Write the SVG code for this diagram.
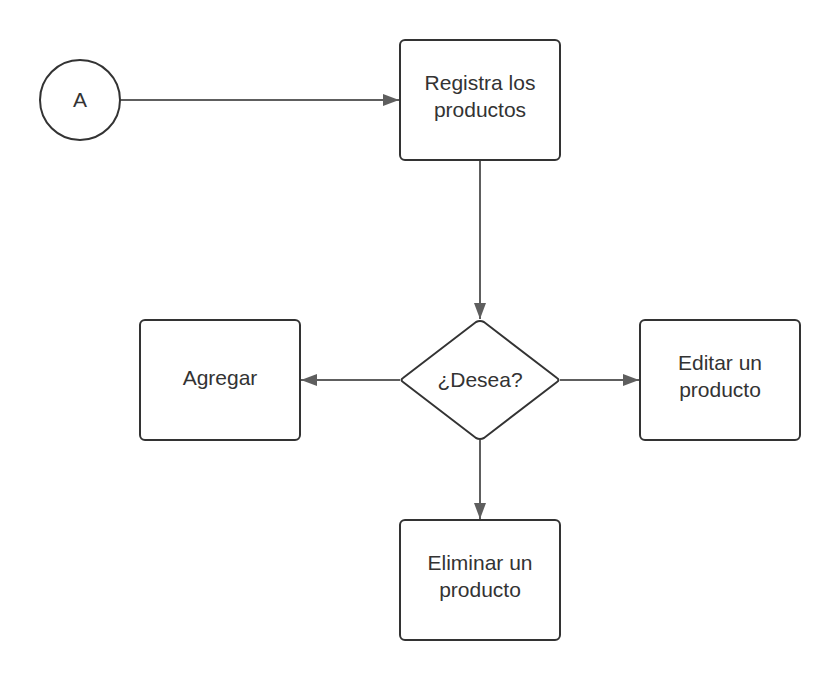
<svg xmlns="http://www.w3.org/2000/svg" width="840" height="680" viewBox="0 0 840 680">
<style>
.n{fill:#fff;stroke:#333;stroke-width:2}
.t{font-family:"Liberation Sans",Arial,sans-serif;font-size:21px;fill:#333;text-anchor:middle}
.c{stroke:#5e5e5e;stroke-width:2;fill:none}
</style>
<defs>
<marker id="ah" markerWidth="16" markerHeight="12" refX="16" refY="6" orient="auto" markerUnits="userSpaceOnUse">
<path d="M0,0 L16,6 L0,12 Z" fill="#5e5e5e"/>
</marker>
</defs>
<rect width="840" height="680" fill="#fff"/>
<g id="connectors">
<line class="c" x1="120" y1="100" x2="399" y2="100" marker-end="url(#ah)"/>
<line class="c" x1="480" y1="160" x2="480" y2="319" marker-end="url(#ah)"/>
<line class="c" x1="400" y1="380" x2="301" y2="380" marker-end="url(#ah)"/>
<line class="c" x1="560" y1="380" x2="639" y2="380" marker-end="url(#ah)"/>
<line class="c" x1="480" y1="440" x2="480" y2="519" marker-end="url(#ah)"/>
</g>
<g id="nodeA">
<circle class="n" cx="80" cy="100" r="40"/>
<text class="t" x="80" y="107">A</text>
</g>
<g id="registra">
<rect class="n" x="400" y="40" width="160" height="120" rx="5"/>
<text class="t" x="480" y="90">Registra los</text>
<text class="t" x="480" y="117">productos</text>
</g>
<g id="desea">
<path class="n" d="M476,322 Q480,320 484,322 L557,378 Q560,380 557,382 L484,438 Q480,440 476,438 L403,382 Q400,380 403,378 Z"/>
<text class="t" x="480" y="387">¿Desea?</text>
</g>
<g id="agregar">
<rect class="n" x="140" y="320" width="160" height="120" rx="5"/>
<text class="t" x="220" y="385">Agregar</text>
</g>
<g id="editar">
<rect class="n" x="640" y="320" width="160" height="120" rx="5"/>
<text class="t" x="720" y="370">Editar un</text>
<text class="t" x="720" y="397">producto</text>
</g>
<g id="eliminar">
<rect class="n" x="400" y="520" width="160" height="120" rx="5"/>
<text class="t" x="480" y="570">Eliminar un</text>
<text class="t" x="480" y="597">producto</text>
</g>
</svg>
